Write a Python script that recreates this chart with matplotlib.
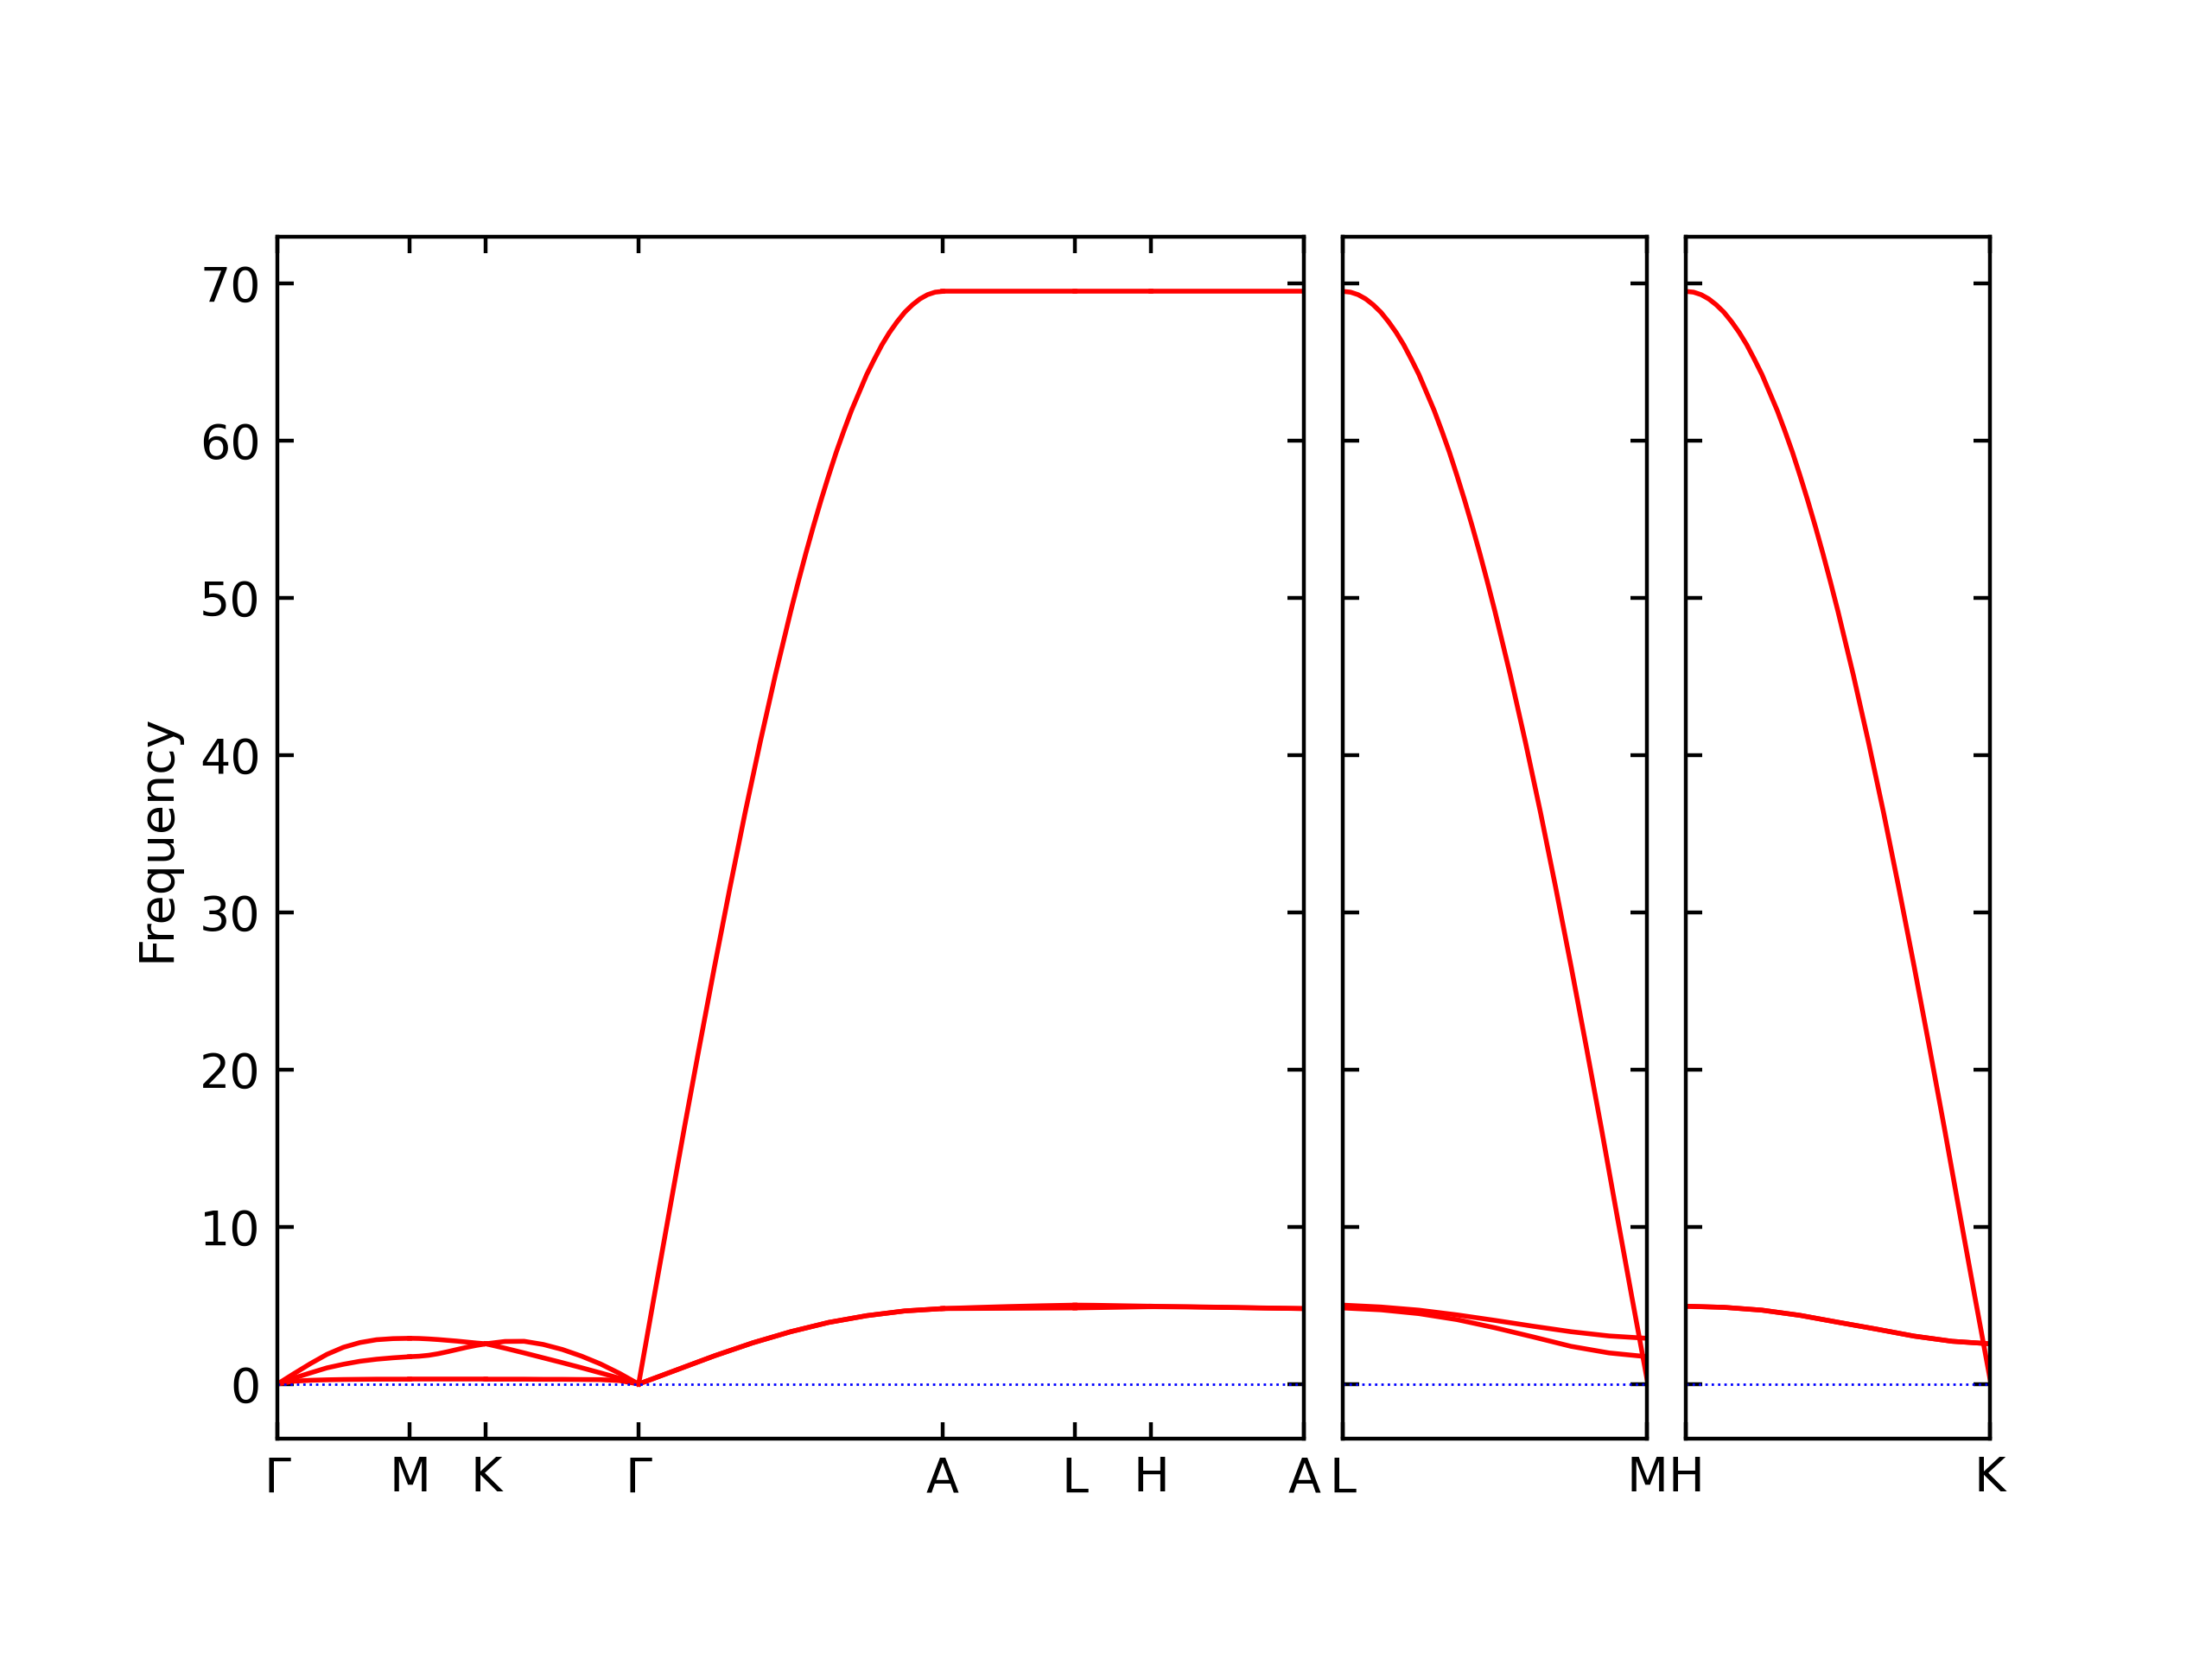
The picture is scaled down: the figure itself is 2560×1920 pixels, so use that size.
import numpy as np
import matplotlib
matplotlib.use("Agg")
import matplotlib.pyplot as plt

# band path: three panels, each a list of segments (start label, end label)
panel_paths = [
    [("Γ", "M"), ("M", "K"), ("K", "Γ"), ("Γ", "A"), ("A", "L"), ("L", "H"), ("H", "A")],
    [("L", "M")],
    [("H", "K")],
]
# segment lengths along the path (reciprocal-space distance, same order)
seg_len = [[1.0, 0.577, 1.155, 2.30, 1.0, 0.577, 1.155],
           [2.30],
           [2.30]]

# sampling positions inside a segment (fraction of segment)
t5 = [0, 0.25, 0.5, 0.75, 1.0]
t9 = [0, 0.125, 0.25, 0.375, 0.5, 0.625, 0.75, 0.875, 1.0]
# denser where the steep band bends over
t_up = [0, 0.05, 0.1, 0.15, 0.2, 0.25, 0.3, 0.35, 0.4, 0.45, 0.5,
        0.525, 0.55, 0.575, 0.6, 0.625, 0.65, 0.675, 0.7, 0.725, 0.75,
        0.775, 0.8, 0.825, 0.85, 0.875, 0.9, 0.925, 0.95, 0.975, 1.0]
t_down = [0, 0.025, 0.05, 0.075, 0.1, 0.125, 0.15, 0.175, 0.2, 0.225, 0.25,
          0.275, 0.3, 0.325, 0.35, 0.375, 0.4, 0.425, 0.45, 0.475, 0.5,
          0.55, 0.6, 0.65, 0.7, 0.75, 0.8, 0.85, 0.9, 0.95, 1.0]

gm_t = t9
gm_bands = [[0, 0.18, 0.24, 0.27, 0.29, 0.30, 0.31, 0.31, 0.31],
            [0, 0.38, 0.71, 1.03, 1.26, 1.45, 1.58, 1.67, 1.74],
            [0, 0.66, 1.30, 1.89, 2.34, 2.64, 2.82, 2.89, 2.91]]
mk_t = t9
mk_bands = [[0.31, 0.31, 0.31, 0.31, 0.31, 0.31, 0.31, 0.31, 0.31],
            [1.74, 1.77, 1.83, 1.93, 2.06, 2.20, 2.34, 2.46, 2.56],
            [2.91, 2.90, 2.87, 2.83, 2.78, 2.73, 2.67, 2.61, 2.56]]
kg_t = t9
kg_bands = [[0.31, 0.31, 0.31, 0.30, 0.30, 0.29, 0.28, 0.22, 0],
            [2.56, 2.71, 2.72, 2.52, 2.20, 1.78, 1.28, 0.68, 0],
            [2.56, 2.28, 1.98, 1.67, 1.36, 1.04, 0.71, 0.37, 0]]
ga_steep = [0, 5.45, 10.87, 16.26, 21.48, 26.60, 31.55, 36.33, 40.85, 45.13, 49.14,
            51.03, 52.85, 54.58, 56.23, 57.79, 59.28, 60.64, 61.93, 63.07, 64.21,
            65.18, 66.10, 66.89, 67.57, 68.17, 68.64, 69.02, 69.29, 69.45, 69.50]
ga_low = [0, 0.90, 1.80, 2.62, 3.33, 3.92, 4.35, 4.65, 4.80]
al_bands = [[69.5, 69.5, 69.5, 69.5, 69.5],
            [4.80, 4.81, 4.82, 4.83, 4.84],
            [4.80, 4.87, 4.93, 4.98, 5.02]]
lh_bands = [[69.5, 69.5, 69.5, 69.5, 69.5],
            [4.84, 4.86, 4.88, 4.90, 4.92],
            [5.02, 5.01, 4.99, 4.97, 4.95]]
ha_bands = [[69.5, 69.5, 69.5, 69.5, 69.5],
            [4.92, 4.90, 4.87, 4.83, 4.80],
            [4.95, 4.92, 4.88, 4.84, 4.80]]
lm_steep = [69.50, 69.45, 69.29, 69.02, 68.64, 68.17, 67.57, 66.89, 66.10, 65.18, 64.21,
            63.07, 61.93, 60.64, 59.28, 57.79, 56.23, 54.58, 52.85, 51.03, 49.14,
            45.13, 40.85, 36.33, 31.55, 26.60, 21.48, 16.26, 10.87, 5.55, 0.31]
lm_lower = [4.84, 4.72, 4.48, 4.10, 3.58, 3.00, 2.40, 1.98, 1.74]
lm_upper = [5.02, 4.90, 4.70, 4.40, 4.05, 3.68, 3.33, 3.06, 2.91]
hk_steep = [69.50, 69.45, 69.29, 69.02, 68.64, 68.17, 67.57, 66.89, 66.10, 65.18, 64.21,
            63.07, 61.93, 60.64, 59.28, 57.79, 56.23, 54.58, 52.85, 51.03, 49.14,
            45.13, 40.85, 36.33, 31.55, 26.60, 21.48, 16.26, 10.87, 5.55, 0.31]
hk_pair = [4.95, 4.88, 4.70, 4.37, 3.93, 3.50, 3.05, 2.72, 2.56]

# (t grid, band values) for every band of every segment, same order as panel_paths
seg_data = [
    [[(gm_t, b) for b in gm_bands],
     [(mk_t, b) for b in mk_bands],
     [(kg_t, b) for b in kg_bands],
     [(t_up, ga_steep), (t9, ga_low), (t9, ga_low)],
     [(t5, b) for b in al_bands],
     [(t5, b) for b in lh_bands],
     [(t5, b) for b in ha_bands]],
    [[(t_down, lm_steep), (t9, lm_lower), (t9, lm_upper)]],
    [[(t_down, hk_steep), (t9, hk_pair), (t9, hk_pair)]],
]

fig = plt.figure(figsize=(6.4, 4.8), dpi=400)

left, bottom, height = 0.1254, 0.1328, 0.7245
scale = 0.4641 / sum(seg_len[0])
gap = 0.0176

x0 = left
axes = []
for p, path in enumerate(panel_paths):
    total = sum(seg_len[p])
    ax = fig.add_axes([x0, bottom, total * scale, height])
    x0 += total * scale + gap
    axes.append(ax)

    start = 0.0
    ticks = [0.0]
    labels = [path[0][0]]
    for s, bands in enumerate(seg_data[p]):
        L = seg_len[p][s]
        for tt, vals in bands:
            xs = start + np.array(tt) * L
            ax.plot(xs, vals, 'r-', lw=1.0)
        start += L
        ticks.append(start)
        labels.append(path[s][1])

    # zero-frequency guide
    ax.plot([0, total], [0, 0], 'b:', lw=0.5)
    ax.set_xlim(0, total)
    ax.set_ylim(-3.475, 72.975)
    ax.set_xticks(ticks)
    ax.set_xticklabels(labels)
    ax.set_yticks(range(0, 71, 10))
    ax.tick_params(direction='in', top=True, right=True, labelsize=10)
    if p > 0:
        ax.tick_params(labelleft=False)

axes[0].set_ylabel('Frequency', fontsize=10)

fig.savefig('out.png', dpi=400)
